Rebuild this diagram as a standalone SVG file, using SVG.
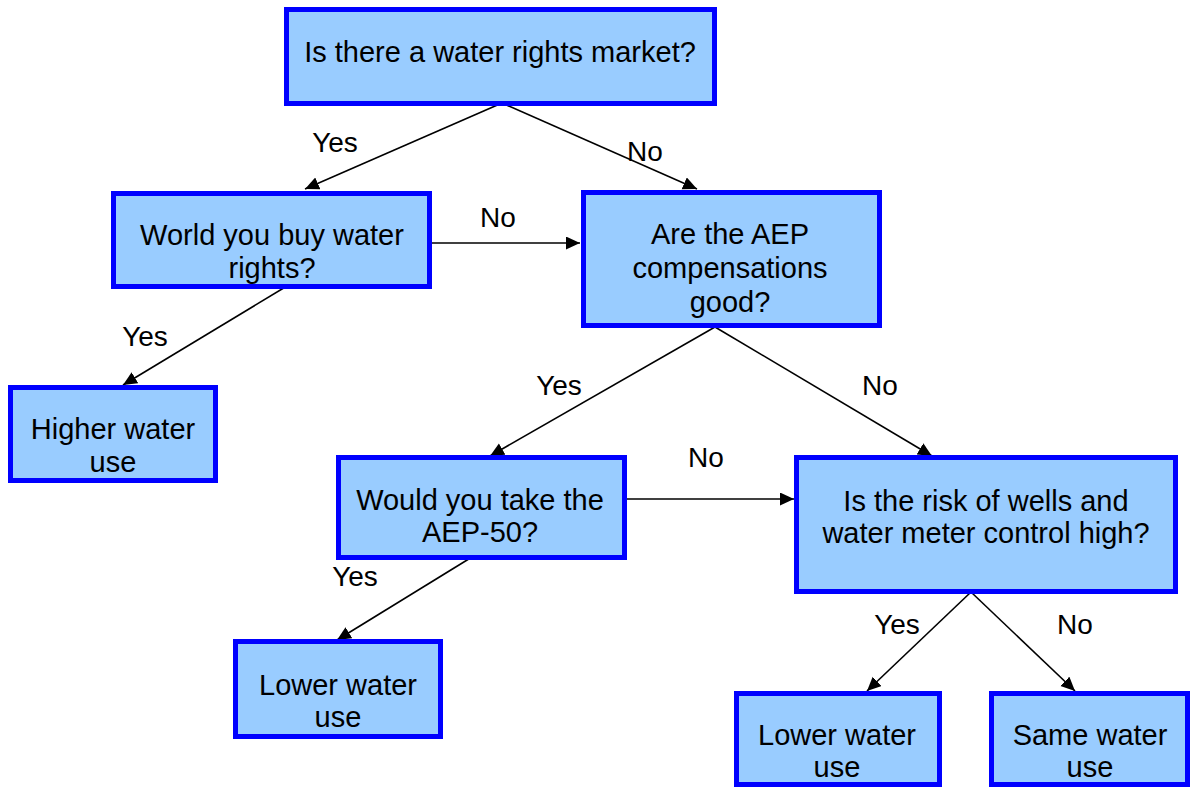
<svg xmlns="http://www.w3.org/2000/svg" width="1193" height="787" viewBox="0 0 1193 787">
<style>
.box{fill:#99CCFF;stroke:#0000FF;stroke-width:5}
.t{font-family:"Liberation Sans",Arial,sans-serif;font-size:29px;fill:#000;text-anchor:middle}
.lbl{font-family:"Liberation Sans",Arial,sans-serif;font-size:28px;fill:#000;text-anchor:middle}
.c{stroke:#000;stroke-width:1.6;fill:none;marker-end:url(#ah)}
</style>
<defs>
<marker id="ah" markerUnits="userSpaceOnUse" markerWidth="15" markerHeight="14" refX="14" refY="6.5" orient="auto">
<path d="M0,0 L14,6.5 L0,13 z" fill="#000"/>
</marker>
</defs>
<rect width="1193" height="787" fill="#fff"/>
<g id="connectors">
<line class="c" x1="502" y1="103" x2="305" y2="189"/>
<line class="c" x1="502" y1="103" x2="697" y2="189"/>
<line class="c" x1="432" y1="243" x2="580" y2="243"/>
<line class="c" x1="287" y1="286" x2="123" y2="385"/>
<line class="c" x1="715" y1="327" x2="490" y2="456"/>
<line class="c" x1="715" y1="327" x2="932" y2="456"/>
<line class="c" x1="627" y1="499" x2="794" y2="499"/>
<line class="c" x1="472" y1="557" x2="337" y2="640"/>
<line class="c" x1="971" y1="592" x2="867" y2="691"/>
<line class="c" x1="971" y1="592" x2="1075" y2="691"/>
</g>
<g id="labels">
<text class="lbl" x="335" y="152">Yes</text>
<text class="lbl" x="645" y="161">No</text>
<text class="lbl" x="498" y="227">No</text>
<text class="lbl" x="145" y="346">Yes</text>
<text class="lbl" x="559" y="395">Yes</text>
<text class="lbl" x="880" y="395">No</text>
<text class="lbl" x="706" y="467">No</text>
<text class="lbl" x="355" y="586">Yes</text>
<text class="lbl" x="897" y="634">Yes</text>
<text class="lbl" x="1075" y="634">No</text>
</g>
<g id="n1"><rect class="box" x="286.5" y="9.5" width="428" height="94"/>
<text class="t" x="500" y="62">Is there a water rights market?</text></g>
<g id="n2"><rect class="box" x="113.5" y="193.5" width="316" height="93"/>
<text class="t" x="272" y="245">World you buy water</text><text class="t" x="272" y="278">rights?</text></g>
<g id="n3"><rect class="box" x="583.5" y="192.5" width="296" height="133"/>
<text class="t" x="730" y="244">Are the AEP</text><text class="t" x="730" y="278">compensations</text><text class="t" x="730" y="312">good?</text></g>
<g id="n4"><rect class="box" x="10.5" y="387.5" width="205" height="93"/>
<text class="t" x="113" y="439">Higher water</text><text class="t" x="113" y="472">use</text></g>
<g id="n5"><rect class="box" x="338.5" y="457.5" width="286" height="100"/>
<text class="t" x="480" y="510">Would you take the</text><text class="t" x="480" y="542">AEP-50?</text></g>
<g id="n6"><rect class="box" x="796.5" y="457.5" width="379" height="134"/>
<text class="t" x="986" y="511">Is the risk of wells and</text><text class="t" x="986" y="543">water meter control high?</text></g>
<g id="n7"><rect class="box" x="235.5" y="641.5" width="205" height="95"/>
<text class="t" x="338" y="695">Lower water</text><text class="t" x="338" y="727">use</text></g>
<g id="n8"><rect class="box" x="736.5" y="693.5" width="203" height="91"/>
<text class="t" x="837" y="745">Lower water</text><text class="t" x="837" y="777">use</text></g>
<g id="n9"><rect class="box" x="991.5" y="693.5" width="196" height="91"/>
<text class="t" x="1090" y="745">Same water</text><text class="t" x="1090" y="777">use</text></g>
</svg>
